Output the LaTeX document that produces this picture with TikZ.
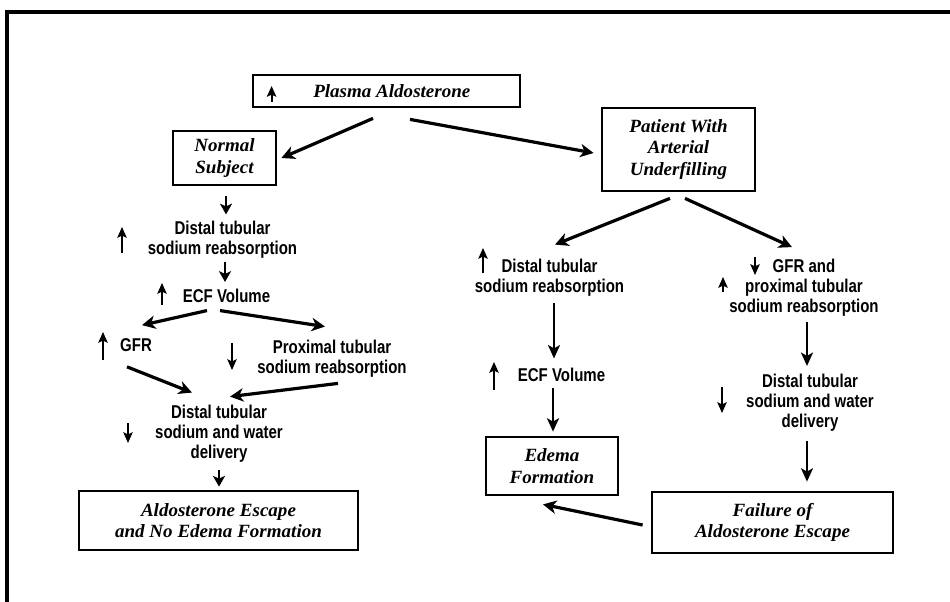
\documentclass[tikz,border=0pt]{standalone}
\usepackage{fontspec}
\newfontfamily\sansc[FakeStretch=0.81]{Liberation Sans}
\newfontfamily\serifi[FakeStretch=1.02]{Liberation Serif}
\usetikzlibrary{arrows.meta,calc}
\tikzset{
  boxnode/.style={draw,line width=2.1pt,inner sep=0pt,align=center,
    font=\serifi\bfseries\itshape\fontsize{14}{16}\selectfont},
  txt/.style={inner sep=0pt,align=center,font=\sansc\bfseries\fontsize{13.9}{15}\selectfont},
  bigarrow/.style={line width=2.4pt,-{Stealth[length=10pt,width=10pt,inset=3pt]}},
  vertarrow/.style={line width=1.6pt,-{Stealth[length=10pt,width=9pt,inset=2.5pt]}},
  shortarrow/.style={line width=2pt,-{Stealth[length=8pt,width=9pt,inset=2pt]}},
  ind/.style={line width=1.5pt,-{Stealth[length=8pt,width=7pt,inset=1.5pt]}}
}
\begin{document}
\begin{tikzpicture}[x=0.75pt,y=-0.75pt]
\useasboundingbox (0,0) rectangle (950,602);
% outer frame
\draw[line width=2.6pt] (7,602) -- (7,12) -- (950,12);

% boxes
\node[boxnode,minimum width=267*0.75pt,minimum height=32*0.75pt] (plasma) at (386.5,91) {\hspace*{8pt}Plasma Aldosterone};
\node[boxnode,minimum width=103*0.75pt,minimum height=54*0.75pt] (normal) at (224.5,158) {Normal\\Subject};
\node[boxnode,minimum width=153*0.75pt,minimum height=83*0.75pt] (patient) at (678.5,149.5) {Patient With\\Arterial\\Underfilling};
\node[boxnode,minimum width=279*0.75pt,minimum height=59*0.75pt] (escape) at (218.5,520.5) {Aldosterone Escape\\and No Edema Formation};
\node[boxnode,minimum width=132*0.75pt,minimum height=58*0.75pt] (edema) at (552,466) {Edema\\Formation};
\node[boxnode,minimum width=241*0.75pt,minimum height=61*0.75pt] (failure) at (772.5,522.5) {Failure of\\Aldosterone Escape};

% left column texts
\node[txt] (dtsr1) at (222.5,240) {Distal tubular\\sodium reabsorption};
\node[txt] (ecf1) at (226.5,295.5) {ECF Volume};
\node[txt] (gfr1) at (136,345) {GFR};
\node[txt] (prox) at (332,358.5) {Proximal tubular\\sodium reabsorption};
\node[txt] (dist2) at (219,433.5) {Distal tubular\\sodium and water\\delivery};

% right columns texts
\node[txt] (dtsr2) at (549.5,277.5) {Distal tubular\\sodium reabsorption};
\node[txt] (ecf2) at (561.5,374.5) {ECF Volume};
\node[txt] (gfr2) at (804,288) {GFR and\\proximal tubular\\sodium reabsorption};
\node[txt] (dist3) at (810,403) {Distal tubular\\sodium and water\\delivery};

% connectors
\draw[bigarrow] ($(plasma.south)+(-13.5,10)$) -- ($(normal.east)+(4,0)$);
\draw[bigarrow] ($(plasma.south)+(23.5,11)$) -- ($(patient.west)+(-7,3.5)$);
\draw[shortarrow] ($(normal.south)+(1.5,10)$) -- ($(normal.south)+(1.5,28)$);
\draw[shortarrow] ($(dtsr1.south)+(2.5,3)$) -- ($(dtsr1.south)+(2.5,23)$);
\draw[bigarrow] ($(ecf1.south)+(-19.5,8)$) -- ($(gfr1.north)+(6,-13)$);
\draw[bigarrow] ($(ecf1.south)+(-6.5,8)$) -- ($(prox.north)+(-7,-13)$);
\draw[bigarrow] ($(gfr1.south)+(-9,15)$) -- ($(dist2.north)+(-27,-12)$);
\draw[bigarrow] ($(prox.south)+(6,6)$) -- ($(dist2.north)+(11,-8)$);
\draw[shortarrow] ($(dist2.south)+(0,8)$) -- ($(escape.north)+(0.5,-3)$);

\draw[bigarrow] ($(patient.south)+(-8.5,6)$) -- ($(dtsr2.north)+(5.5,-14)$);
\draw[bigarrow] ($(patient.south)+(6.5,6)$) -- ($(gfr2.north)+(-12,-12)$);
\draw[vertarrow] ($(dtsr2.south)+(4.5,7)$) -- ($(dtsr2.south)+(4.5,62)$);
\draw[vertarrow] ($(ecf2.south)+(-8.5,6)$) -- ($(edema.north)+(1,-4)$);
\draw[vertarrow] ($(gfr2.south)+(3,5)$) -- ($(gfr2.south)+(3,49)$);
\draw[vertarrow] ($(dist3.south)+(-3,9)$) -- ($(failure.north)+(34.5,-9)$);
\draw[bigarrow] ($(failure.west)+(-8,2.5)$) -- ($(edema.south)+(-9,8)$);

% increase / decrease indicators
\draw[ind] ($(plasma.west)+(20,11)$) -- ($(plasma.west)+(20,-5)$);
\draw[ind] (122,253) -- (122,227);
\draw[ind] (162,305) -- (162,283);
\draw[ind] (103,360) -- (103,332);
\draw[ind] (232,343) -- (232,370);
\draw[ind] (128,423) -- (128,443);
\draw[ind] (483,273) -- (483,248);
\draw[ind] (494,390) -- (494,362);
\draw[ind] (755,257) -- (755,275);
\draw[ind] (723,292) -- (723,277);
\draw[ind] (722,387) -- (722,413);
\end{tikzpicture}
\end{document}
